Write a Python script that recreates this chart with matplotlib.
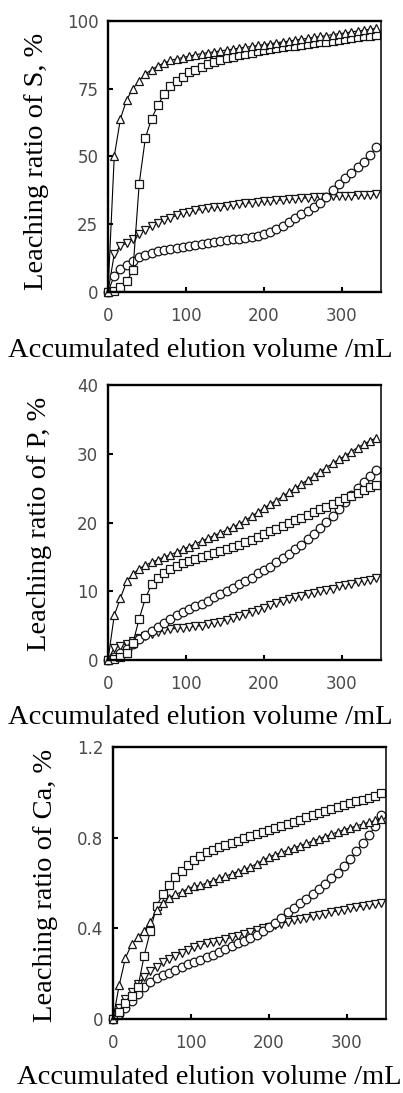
import matplotlib
matplotlib.use("Agg")
import matplotlib.pyplot as plt

# accumulated elution volume, mL
volume = [0, 8, 16, 24, 32, 40, 48, 56, 64, 72, 80, 88, 96, 104, 112, 120, 128, 136, 144, 152,
          160, 168, 176, 184, 192, 200, 208, 216, 224, 232, 240, 248, 256, 264, 272, 280, 288, 296,
          304, 312, 320, 328, 336, 344]

# leaching ratio of S, %
s_circle = [0, 6, 8.5, 10, 11.5, 12.8, 13.8, 14.5, 15.1, 15.6, 16, 16.3, 16.6, 17, 17.3, 17.7, 18.1,
            18.4, 18.8, 19.1, 19.4, 19.7, 20, 20.4, 20.8, 21.3, 22.3, 23.3, 24.5, 26, 27.3, 28.6, 30,
            31.3, 32.8, 35, 37.5, 40, 42, 44, 46, 48, 50.5, 53.5]
s_square = [0, 0.5, 2, 4, 8, 40, 57, 64, 69, 73, 76, 78, 79.5, 81, 82, 83, 84, 84.8, 85.5, 86.2, 86.8,
            87.3, 87.8, 88.3, 88.8, 89.2, 89.6, 90, 90.3, 90.6, 90.9, 91.2, 91.5, 91.8, 92.1, 92.4,
            92.7, 93, 93.3, 93.6, 94, 94.3, 94.6, 95]
s_up = [0, 50, 64, 71, 75, 78, 80.5, 82, 83.5, 84.5, 85.5, 86, 86.5, 87, 87.5, 88, 88.3, 88.6, 89, 89.3,
        89.6, 90, 90.3, 90.6, 91, 91.3, 91.6, 92, 92.3, 92.6, 93, 93.3, 93.6, 94, 94.3, 94.6, 95, 95.3,
        95.6, 96, 96.3, 96.6, 97, 97.3]
s_down = [0, 14, 17, 18, 19.5, 21.5, 23, 24.3, 25.5, 26.5, 27.3, 28.3, 29, 29.6, 30.1, 30.5, 30.9, 31.2,
          31.5, 31.8, 32.1, 32.4, 32.7, 33, 33.2, 33.4, 33.6, 33.8, 34, 34.2, 34.4, 34.6, 34.8, 35, 35.1,
          35.2, 35.3, 35.4, 35.5, 35.6, 35.7, 35.8, 35.9, 36]

# leaching ratio of P, %
p_circle = [0, 0.5, 1, 1.6, 2.3, 3, 3.6, 4.2, 4.8, 5.4, 6, 6.5, 7, 7.4, 7.8, 8.2, 8.6, 9.1, 9.6, 10.1,
            10.5, 11, 11.5, 12, 12.6, 13.1, 13.6, 14.2, 14.8, 15.4, 16.1, 16.8, 17.6, 18.4, 19.2, 20.1,
            21, 22, 23, 24, 25, 25.9, 26.8, 27.6]
p_square = [0, 0.2, 0.4, 1, 2.5, 6, 9, 11, 12, 12.6, 13.2, 13.7, 14.1, 14.4, 14.7, 15, 15.3, 15.6, 15.9,
            16.2, 16.5, 16.8, 17.1, 17.5, 17.9, 18.3, 18.7, 19.1, 19.5, 19.9, 20.3, 20.7, 21.1, 21.5,
            21.9, 22.3, 22.7, 23.1, 23.5, 23.9, 24.3, 24.7, 25.1, 25.5]
p_up = [0, 6.5, 9, 11.5, 12.5, 13.3, 13.8, 14.2, 14.6, 15, 15.3, 15.7, 16.1, 16.5, 16.9, 17.3, 17.7,
        18.1, 18.5, 18.9, 19.3, 19.8, 20.3, 20.9, 21.5, 22.1, 22.7, 23.2, 23.8, 24.4, 25, 25.6, 26.2,
        26.8, 27.4, 28, 28.6, 29.2, 29.7, 30.3, 30.9, 31.4, 31.9, 32.3]
p_down = [0, 1.8, 2.1, 2.4, 2.8, 3.2, 3.5, 3.8, 4.1, 4.3, 4.5, 4.6, 4.7, 4.8, 4.9, 5, 5.2, 5.4, 5.6, 5.8,
          6.1, 6.4, 6.7, 7, 7.3, 7.6, 8, 8.3, 8.6, 8.9, 9.1, 9.3, 9.6, 9.8, 10, 10.2, 10.4, 10.7, 10.9,
          11.1, 11.3, 11.5, 11.7, 11.9]

# leaching ratio of Ca, %
ca_circle = [0, 0.02, 0.05, 0.08, 0.11, 0.14, 0.165, 0.183, 0.195, 0.205, 0.218, 0.23, 0.242, 0.252,
             0.262, 0.273, 0.284, 0.297, 0.31, 0.323, 0.334, 0.345, 0.358, 0.372, 0.388, 0.405, 0.425,
             0.447, 0.47, 0.49, 0.51, 0.53, 0.55, 0.573, 0.597, 0.62, 0.645, 0.675, 0.705, 0.74, 0.775,
             0.81, 0.85, 0.9]
ca_square = [0, 0.03, 0.07, 0.1, 0.14, 0.28, 0.39, 0.5, 0.55, 0.59, 0.625, 0.655, 0.68, 0.7, 0.72,
             0.735, 0.745, 0.757, 0.768, 0.778, 0.787, 0.797, 0.806, 0.815, 0.825, 0.834, 0.843, 0.852,
             0.861, 0.87, 0.88, 0.889, 0.898, 0.907, 0.916, 0.925, 0.934, 0.943, 0.951, 0.96, 0.968,
             0.977, 0.986, 0.995]
ca_up = [0, 0.15, 0.27, 0.33, 0.36, 0.39, 0.43, 0.48, 0.51, 0.535, 0.55, 0.56, 0.575, 0.585, 0.59, 0.6,
         0.61, 0.62, 0.63, 0.64, 0.65, 0.66, 0.67, 0.685, 0.7, 0.715, 0.725, 0.735, 0.745, 0.755, 0.765,
         0.775, 0.785, 0.795, 0.805, 0.815, 0.825, 0.835, 0.843, 0.852, 0.86, 0.868, 0.876, 0.884]
ca_down = [0, 0.05, 0.09, 0.12, 0.155, 0.185, 0.21, 0.23, 0.25, 0.266, 0.28, 0.293, 0.305, 0.316, 0.326,
           0.334, 0.34, 0.345, 0.352, 0.36, 0.368, 0.376, 0.384, 0.392, 0.4, 0.407, 0.414, 0.421, 0.428,
           0.435, 0.441, 0.447, 0.453, 0.459, 0.465, 0.471, 0.477, 0.483, 0.488, 0.493, 0.498, 0.503,
           0.508, 0.513]

W, H = 403, 1093
SERIF = "Liberation Serif"


def draw_panel(ax, series, ymax, yticks, ylabels):
    for values, marker in series:
        ax.plot(volume, values, color="black", lw=0.8, marker=marker, ms=6.2,
                mfc="white", mec="#151515", mew=0.9, clip_on=False)
    ax.set_xlim(0, 350)
    ax.set_ylim(0, ymax)
    ax.set_xticks([0, 100, 200, 300])
    ax.set_yticks(yticks)
    ax.set_yticklabels(ylabels)
    ax.tick_params(direction="in", length=3.5, width=1.5, labelsize=12, labelcolor="#4a4a4a")
    ax.tick_params(axis="x", pad=11)
    ax.tick_params(axis="y", pad=7)
    for side in ("left", "bottom", "top"):
        ax.spines[side].set_linewidth(1.7)
    ax.spines["right"].set_linewidth(1.1)


def px_axes(left, top, right, bottom):
    return [left / W, 1 - bottom / H, (right - left) / W, (bottom - top) / H]


fig = plt.figure(figsize=(W / 100, H / 100), dpi=100)

ax1 = fig.add_axes(px_axes(108, 21, 381, 292))
draw_panel(ax1, [(s_down, "v"), (s_circle, "o"), (s_square, "s"), (s_up, "^")],
           100, [0, 25, 50, 75, 100], ["0", "25", "50", "75", "100"])

ax2 = fig.add_axes(px_axes(108, 385, 381, 660))
draw_panel(ax2, [(p_down, "v"), (p_circle, "o"), (p_square, "s"), (p_up, "^")],
           40, [0, 10, 20, 30, 40], ["0", "10", "20", "30", "40"])

ax3 = fig.add_axes(px_axes(113, 747, 386, 1019))
draw_panel(ax3, [(ca_down, "v"), (ca_circle, "o"), (ca_square, "s"), (ca_up, "^")],
           1.2, [0, 0.4, 0.8, 1.2], ["0", "0.4", "0.8", "1.2"])

# axis titles
xlab = "Accumulated elution volume /mL"
for cx, cy in [(200, 350), (200, 718), (209, 1078)]:
    fig.text(cx / W, 1 - cy / H, xlab, family=SERIF, fontsize=20.5, ha="center", va="center")

for text, cx, cy in [("Leaching ratio of S, %", 37, 161),
                     ("Leaching ratio of P, %", 40, 524),
                     ("Leaching ratio of Ca, %", 46, 885)]:
    fig.text(cx / W, 1 - cy / H, text, family=SERIF, fontsize=20.5, rotation=90,
             ha="center", va="center")

fig.savefig("out.png", dpi=100)
